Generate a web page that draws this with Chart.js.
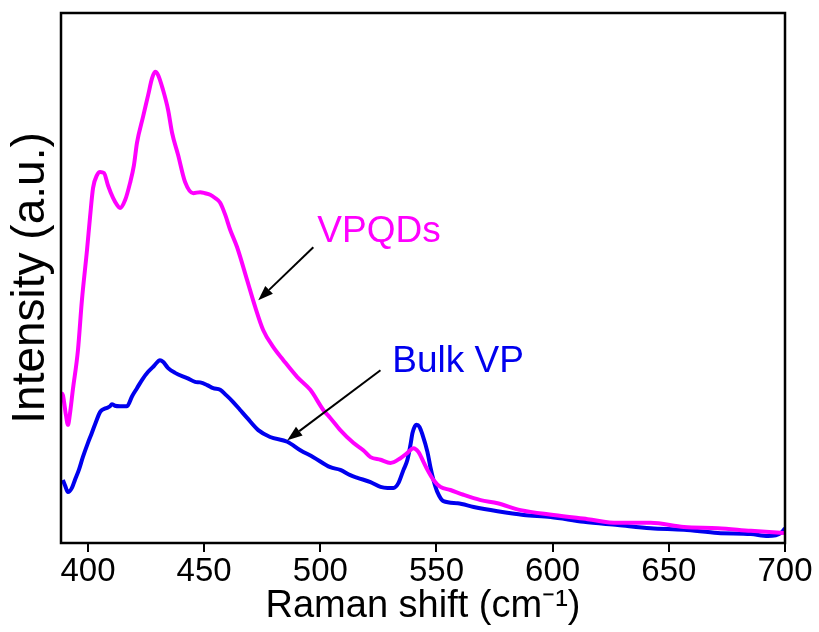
<!DOCTYPE html>
<html>
<head>
<meta charset="utf-8">
<script src="https://cdn.jsdelivr.net/npm/chart.js@4.4.1/dist/chart.umd.min.js"></script>
<style>
  html, body { margin: 0; padding: 0; background: #fff; }
</style>
</head>
<body>
<canvas id="chart" width="819" height="632"></canvas>
<script>
// Raman spectra (intensity in arbitrary units, 0-100)
const vpqdsShift = [388.4, 389.2, 390.5, 391.4, 392.2, 393.5, 395.7, 397.4, 399.6, 400.9, 402.2, 403.9,
  405.2, 406.9, 408.6, 410.8, 412.5, 413.8, 416.0, 418.1, 419.8, 421.1, 423.7, 425.9, 427.6, 428.9,
  430.2, 432.3, 434.5, 436.2, 438.8, 441.8, 445.3, 448.3, 450.4, 452.6, 454.7, 456.9, 459.1, 461.2,
  464.2, 468.5, 472.0, 475.4, 479.7, 484.1, 490.1, 495.7, 501.3, 504.3, 508.6, 514.2, 518.5, 521.6,
  525.9, 530.2, 534.5, 537.5, 540.1, 542.2, 544.4, 546.1, 548.7, 551.7, 556.0, 561.6, 569.0, 576.3,
  586.2, 600.4, 615.1, 628.0, 642.2, 656.5, 671.1, 685.3, 699.6];
const vpqdsIntensity = [28.3, 27.9, 24.2, 22.3, 24.2, 28.9, 36.4, 45.8, 55.3, 61.5, 67.0, 69.4,
  70.0, 69.8, 67.5, 65.1, 63.8, 63.2, 64.7, 67.9, 71.3, 75.5, 80.4, 84.5, 87.7, 88.9,
  88.3, 85.5, 81.7, 77.4, 73.2, 68.1, 66.0, 66.2, 66.0, 65.7, 65.1, 64.2, 61.9, 59.1,
  55.8, 49.6, 44.5, 40.2, 37.0, 34.5, 31.3, 28.9, 25.1, 23.6, 21.3, 18.9, 17.5, 16.2,
  15.7, 15.1, 16.0, 17.0, 17.9, 17.2, 15.3, 13.8, 11.9, 10.6, 10.0, 9.1, 8.1, 7.5,
  6.2, 5.3, 4.5, 3.8, 3.8, 3.0, 2.8, 2.3, 1.9];

const bulkShift = [389.2, 390.1, 391.4, 393.1, 394.4, 396.1, 397.8, 400.0, 401.7, 403.4, 405.2, 406.9,
  408.2, 409.5, 410.3, 411.6, 413.8, 416.8, 419.0, 421.1, 423.3, 425.9, 428.4, 431.0, 432.3, 434.5,
  437.5, 442.7, 446.1, 448.3, 451.3, 453.9, 456.9, 459.5, 462.5, 465.5, 468.5, 473.3, 478.4, 485.8,
  491.4, 497.0, 504.3, 508.6, 512.9, 516.0, 521.6, 525.9, 528.9, 531.5, 533.6, 535.8, 537.5, 538.8,
  539.7, 541.4, 542.7, 544.0, 546.1, 547.4, 548.7, 550.4, 553.0, 559.1, 566.0, 576.3, 587.5, 599.1,
  613.4, 628.0, 642.2, 656.5, 671.1, 685.3, 692.7, 698.3, 700.0];
const bulkIntensity = [11.9, 10.9, 9.6, 10.4, 11.9, 13.8, 16.2, 18.9, 20.8, 22.8, 24.7, 25.3,
  25.5, 25.8, 26.2, 25.9, 25.8, 25.8, 27.7, 29.2, 30.8, 32.3, 33.4, 34.5, 34.2, 33.0,
  32.1, 31.1, 30.4, 30.3, 29.8, 29.2, 28.9, 27.9, 26.6, 25.1, 23.6, 21.3, 20.0, 19.1,
  17.5, 16.2, 14.3, 13.8, 12.8, 12.3, 11.5, 10.6, 10.4, 10.4, 11.3, 13.8, 15.7, 18.5,
  20.8, 22.3, 21.9, 20.4, 17.2, 14.3, 11.9, 9.6, 7.9, 7.5, 6.8, 6.0, 5.3, 4.9,
  4.0, 3.4, 2.8, 2.5, 1.9, 1.7, 1.3, 1.9, 2.8];

const xTicks = [400, 450, 500, 550, 600, 650, 700];

const FONT = '"Liberation Sans", Arial, sans-serif';

// labels with arrows, in data coordinates
const labels = [
  { text: 'VPQDs', color: '#ff00ff', at: [498.7, 56.8], from: [497.0, 55.8], to: [473.3, 45.8] },
  { text: 'Bulk VP', color: '#0000ee', at: [531.0, 32.3], from: [525.9, 32.6], to: [485.8, 19.4] },
];

const toPoints = (xs, ys) => xs.map((x, i) => ({ x, y: ys[i] }));

const framePlugin = {
  id: 'frame',
  afterDatasetsDraw(chart) {
    const { ctx, chartArea: a, scales: { x, y } } = chart;
    ctx.save();
    ctx.strokeStyle = '#000';
    ctx.lineWidth = 2.5;
    ctx.strokeRect(a.left, a.top, a.right - a.left, a.bottom - a.top);

    for (const l of labels) {
      const x0 = x.getPixelForValue(l.from[0]), y0 = y.getPixelForValue(l.from[1]);
      const x1 = x.getPixelForValue(l.to[0]), y1 = y.getPixelForValue(l.to[1]);
      const ang = Math.atan2(y1 - y0, x1 - x0);
      const head = 15, half = 5.5;
      const bx = x1 - head * Math.cos(ang), by = y1 - head * Math.sin(ang);
      ctx.strokeStyle = '#000';
      ctx.lineWidth = 2;
      ctx.beginPath();
      ctx.moveTo(x0, y0);
      ctx.lineTo(bx, by);
      ctx.stroke();
      ctx.fillStyle = '#000';
      ctx.beginPath();
      ctx.moveTo(x1, y1);
      ctx.lineTo(bx + half * Math.sin(ang), by - half * Math.cos(ang));
      ctx.lineTo(bx - half * Math.sin(ang), by + half * Math.cos(ang));
      ctx.closePath();
      ctx.fill();

      ctx.fillStyle = l.color;
      ctx.font = `37px ${FONT}`;
      ctx.textBaseline = 'alphabetic';
      ctx.textAlign = 'left';
      ctx.fillText(l.text, x.getPixelForValue(l.at[0]), y.getPixelForValue(l.at[1]));
    }
    ctx.restore();
  },
};

new Chart(document.getElementById('chart'), {
  type: 'line',
  data: {
    datasets: [
      {
        label: 'VPQDs',
        data: toPoints(vpqdsShift, vpqdsIntensity),
        borderColor: '#ff00ff',
        borderWidth: 4,
        pointRadius: 0,
        cubicInterpolationMode: 'monotone',
      },
      {
        label: 'Bulk VP',
        data: toPoints(bulkShift, bulkIntensity),
        borderColor: '#0000ee',
        borderWidth: 4,
        pointRadius: 0,
        cubicInterpolationMode: 'monotone',
      },
    ],
  },
  options: {
    responsive: false,
    animation: false,
    layout: { padding: { top: 13, right: 34, left: 0, bottom: 0 } },
    plugins: { legend: { display: false }, tooltip: { enabled: false } },
    scales: {
      x: {
        type: 'linear',
        min: 388.4,
        max: 700,
        afterBuildTicks: (scale) => { scale.ticks = xTicks.map(v => ({ value: v })); },
        afterFit: (scale) => { scale.height = 89; },
        border: { display: false },
        grid: { display: true, drawOnChartArea: false, drawTicks: true, tickLength: 9, color: '#000', lineWidth: 2 },
        ticks: { color: '#000', padding: 0, font: { family: FONT, size: 33 }, maxRotation: 0, autoSkip: false },
        title: {
          display: true,
          text: 'Raman shift (cm⁻¹)',
          color: '#000',
          font: { family: FONT, size: 38, lineHeight: 1 },
          padding: { top: 0, bottom: 6 },
        },
      },
      y: {
        min: 0,
        max: 100,
        afterFit: (scale) => { scale.width = 61; },
        border: { display: false },
        grid: { display: false },
        ticks: { display: false },
        title: {
          display: true,
          text: 'Intensity (a.u.)',
          color: '#000',
          font: { family: FONT, size: 46, lineHeight: 1 },
          padding: { top: 8, bottom: 0 },
        },
      },
    },
  },
  plugins: [framePlugin],
});
</script>
</body>
</html>
